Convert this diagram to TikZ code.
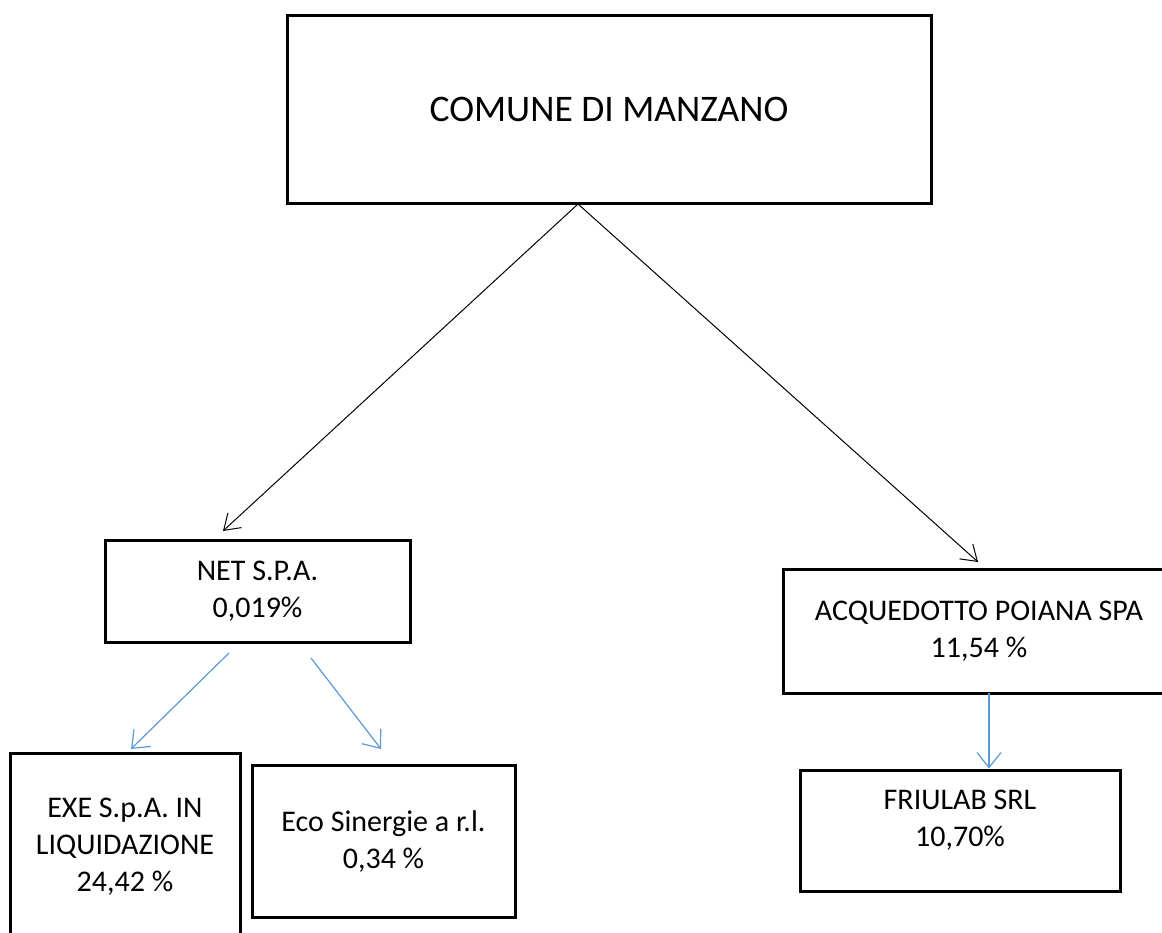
\documentclass[tikz,border=0pt]{standalone}
\usepackage{fontspec}
\setmainfont{Carlito}
\usetikzlibrary{arrows.meta}
\definecolor{arrowblue}{RGB}{91,155,213}
\begin{document}
\begin{tikzpicture}[x=1pt,y=-1pt,
  box/.style={draw=black,line width=3pt,fill=white,inner sep=0pt,align=center,font=\fontsize{30}{37}\selectfont},
  plaintext/.style={inner sep=0pt,align=center,font=\fontsize{30}{37}\selectfont},
  blackarrow/.style={draw=black,line width=1pt,-{Straight Barb[length=15pt,width=20pt]}},
  bluearrow/.style={draw=arrowblue,line width=1.2pt,-{Straight Barb[length=15pt,width=24pt]}}]
\useasboundingbox (0,0) rectangle (1162,932);
\clip (0,0) rectangle (1162,932);
\fill[white] (0,0) rectangle (1162,932);

\node[box, minimum width=644pt, minimum height=188pt, font=\fontsize{37.5}{44}\selectfont] (comune) at (609,109) {COMUNE DI MANZANO};
\node[box, minimum width=305pt, minimum height=102pt] (net) at (257.5,591) {NET S.P.A.\\0,019\%};
\node[box, minimum width=392pt, minimum height=124pt] (acq) at (979,631) {ACQUEDOTTO POIANA SPA\\11,54 \%};
\node[box, minimum width=320pt, minimum height=121pt] (friu) at (960,830.5) {};
\node[plaintext] (friutext) at (960,820) {FRIULAB SRL\\10,70\%};
\node[box, minimum width=230pt, minimum height=188pt] (exe) at (125,847) {EXE S.p.A. IN\\LIQUIDAZIONE\\24,42 \%};
\node[box, minimum width=263pt, minimum height=152pt] (eco) at (383.5,841) {Eco Sinergie a r.l.\\0,34 \%};

\coordinate (apex) at (578,204);
\coordinate (netin) at (223,531);
\coordinate (acqin) at (978,562);
\coordinate (netout1) at (229,653);
\coordinate (exein) at (131,749);
\coordinate (netout2) at (311,658);
\coordinate (ecoin) at (381,749);
\coordinate (acqout) at (989,693);

\draw[blackarrow] (apex) -- (netin);
\draw[blackarrow] (apex) -- (acqin);
\draw[bluearrow] (netout1) -- (exein);
\draw[bluearrow] (netout2) -- (ecoin);
\draw[bluearrow] (acqout) -- (friu.north -| acqout);
\end{tikzpicture}
\end{document}
